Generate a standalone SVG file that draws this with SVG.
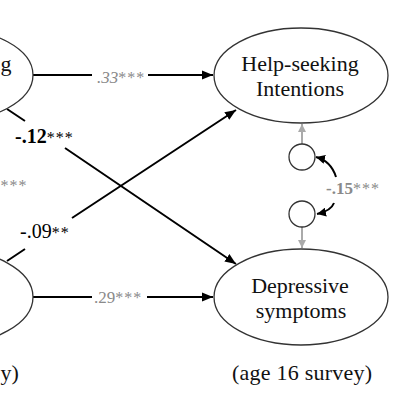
<svg xmlns="http://www.w3.org/2000/svg" width="411" height="411" viewBox="0 0 411 411">
<style>
.el{fill:#fff;stroke:#333;stroke-width:1.3}
.sc{fill:#fff;stroke:#333;stroke-width:1.3}
.nt{font-family:"Liberation Serif","Times New Roman",serif;font-size:22px;fill:#111;text-anchor:middle}
.cap{font-family:"Liberation Serif","Times New Roman",serif;font-size:22px;fill:#111}
.ln{fill:none;stroke:#000;stroke-width:2}
.gl{fill:none;stroke:#aaa;stroke-width:2}
.lg{font-family:"Liberation Serif","Times New Roman",serif;font-size:17px;fill:#8a8a8a}
.lb{font-family:"Liberation Serif","Times New Roman",serif;font-size:20px;fill:#000}
.st{font-size:16px;letter-spacing:1px;font-style:normal;font-weight:normal}
</style>
<defs>
<marker id="ah" markerUnits="userSpaceOnUse" markerWidth="12" markerHeight="10" refX="11" refY="5" orient="auto"><path d="M0,0.5 L11,5 L0,9.5 Z" fill="#000"/></marker>
<marker id="ahs" markerUnits="userSpaceOnUse" markerWidth="10" markerHeight="9" refX="9" refY="4.5" orient="auto"><path d="M0,0 L9,4.5 L0,9 Z" fill="#000"/></marker>
<marker id="ahg" markerUnits="userSpaceOnUse" markerWidth="9" markerHeight="9" refX="8" refY="4.5" orient="auto"><path d="M0,0.5 L8,4.5 L0,8.5 Z" fill="#aaa"/></marker>
</defs>
<g id="connectors">
<path class="ln" d="M33,75 H92 M148,75 H213" marker-end="url(#ah)"/>
<path class="ln" d="M33,297 H92 M147,297 H213" marker-end="url(#ah)"/>
<path class="ln" d="M7,109 L25,121 M65,148 L236,264" marker-end="url(#ah)"/>
<path class="ln" d="M7,261 L25,249 M72,218 L236,110" marker-end="url(#ah)"/>
<path class="gl" d="M302,144 V124" marker-end="url(#ahg)"/>
<path class="gl" d="M302,227 V248" marker-end="url(#ahg)"/>
<path class="ln" d="M336,177 Q331,161 316,157" marker-end="url(#ahs)"/>
<path class="ln" d="M334,203 Q331,211 317,214" marker-end="url(#ahs)"/>
</g>
<g id="labels">
<text class="lg" x="97" y="83" font-style="italic">.33<tspan class="st">***</tspan></text>
<text class="lg" x="94" y="303">.29<tspan class="st">***</tspan></text>
<text class="lb" x="15" y="143" font-weight="bold">-.12<tspan class="st" letter-spacing="3">***</tspan></text>
<text class="lb" x="20" y="238">-.09<tspan class="st" letter-spacing="3">**</tspan></text>
<text class="lg" x="326" y="194" font-weight="bold">-.15<tspan class="st">***</tspan></text>
<text class="lg" x="0.5" y="191"><tspan class="st">***</tspan></text>
</g>
<g id="node-left-top">
<ellipse class="el" cx="-54" cy="75" rx="87" ry="47"/>
<text class="cap" x="0.5" y="71">g</text>
</g>
<g id="node-left-bottom">
<ellipse class="el" cx="-54" cy="297" rx="87" ry="48"/>
<text class="cap" x="0.5" y="380">y)</text>
</g>
<g id="node-help">
<ellipse class="el" cx="301" cy="75.5" rx="87" ry="47.5"/>
<text class="nt" x="300" y="71">Help-seeking</text>
<text class="nt" x="300" y="96">Intentions</text>
</g>
<g id="node-dep">
<ellipse class="el" cx="301" cy="297" rx="87" ry="48"/>
<text class="nt" x="300" y="293">Depressive</text>
<text class="nt" x="301" y="318">symptoms</text>
</g>
<g id="caption">
<text class="cap" x="302" y="380" text-anchor="middle" textLength="140">(age 16 survey)</text>
</g>
<g id="res-1"><circle class="sc" cx="302" cy="157" r="13"/></g>
<g id="res-2"><circle class="sc" cx="302" cy="214" r="13"/></g>
</svg>
